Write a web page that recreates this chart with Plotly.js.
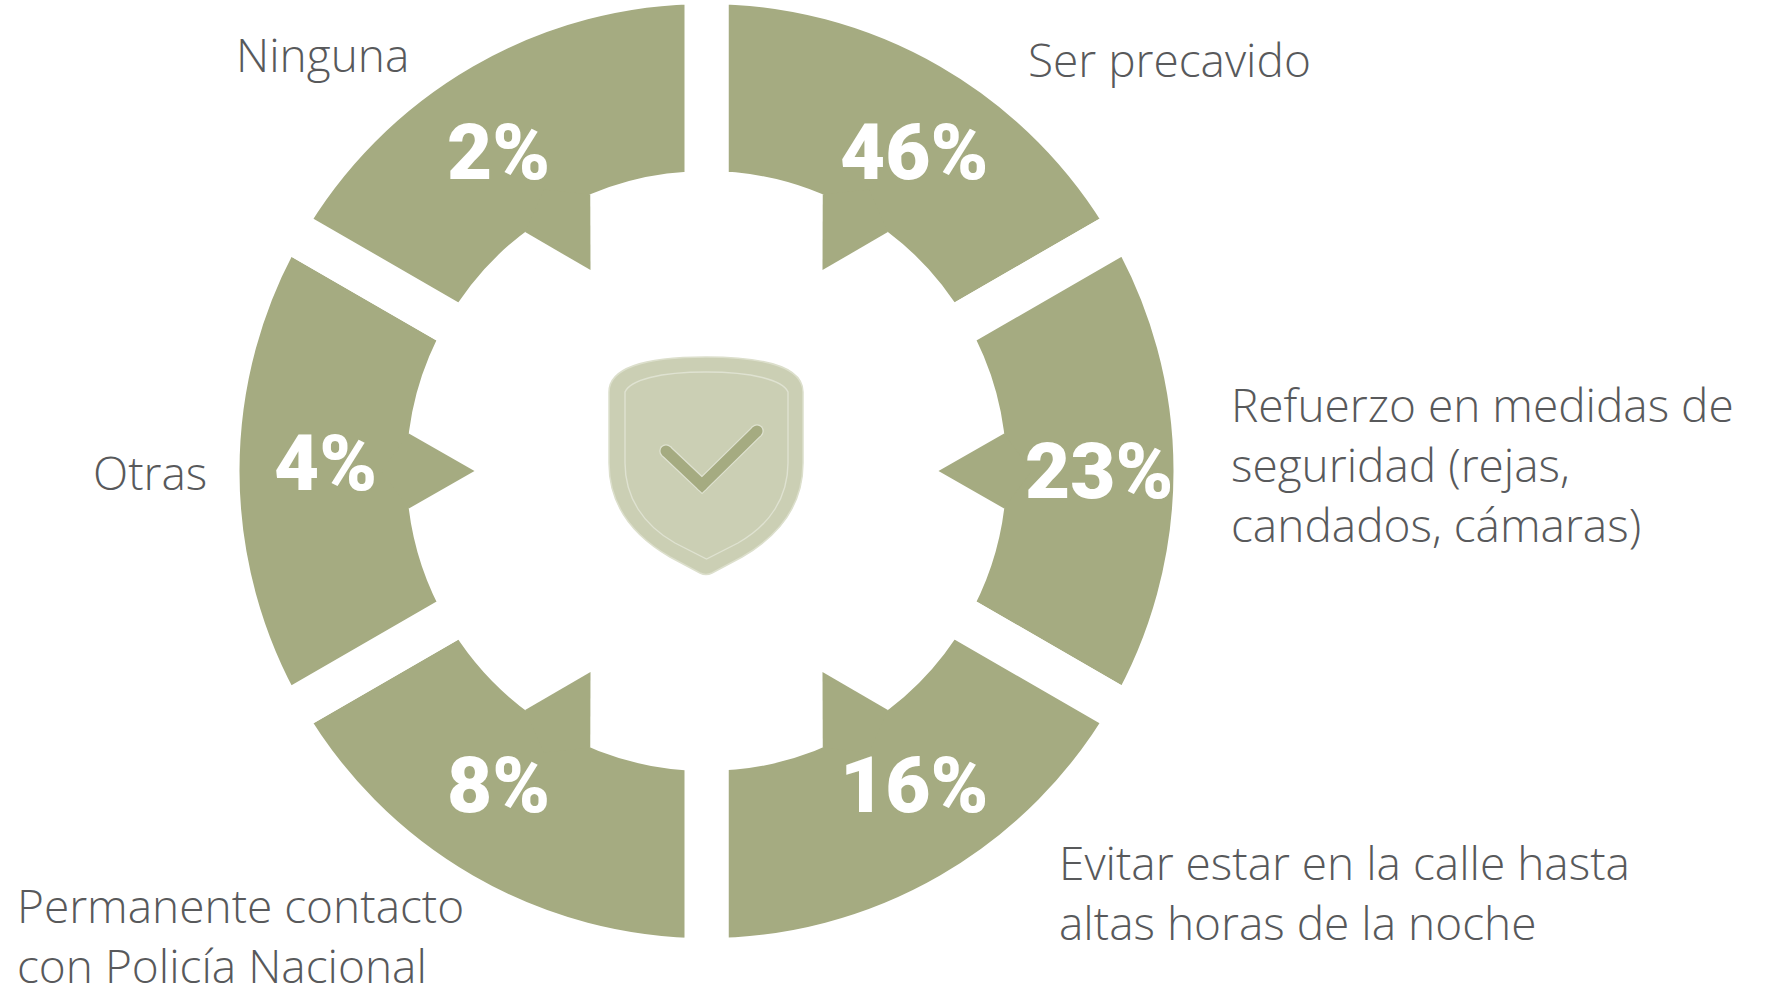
<!DOCTYPE html>
<html><head><meta charset="utf-8">
<script src="https://cdn.plot.ly/plotly-3.0.1.min.js"></script>
<style>html,body{margin:0;padding:0;background:#fff;overflow:hidden;width:1774px;height:985px}
#wrap{position:absolute;left:0;top:-30px}</style></head>
<body><div id="wrap"></div>
<script>
// ----- data -----
const categories = ["Ser precavido","Refuerzo en medidas de<br>seguridad (rejas,<br>candados, cámaras)","Evitar estar en la calle hasta<br>altas horas de la noche","Permanente contacto<br>con Policía Nacional","Otras","Ninguna"];
const percentages = [46,23,16,8,4,2];
const sliceWeights = [1,1,1,1,1,1]; // the reference draws six equal sectors
// ----- layout of the text (px in the 1774x985 picture) -----
const pctX = [914,1099,914,498,325,498];
const pctY = [153,471,785,785,464,153];
const labelX = [1026,1229,1057,15,91,234];
const labelY = [59,464,892,935,472,54];
// ----- styles / geometry -----
const GREEN="#a5ab81", TEXT="#58595b", W=1774, H=1045, TOP=30;
const CX=706.5, CY=471, ROUT=467, RIN=300, GAP=44, RTIP=232, DELTA=7.2;
const px=x=>x/W, py=y=>1-(y+TOP)/H;
const pt=(x,y)=>px(x)+","+py(y);
const polar=(r,deg)=>{const a=deg*Math.PI/180;return [CX+r*Math.sin(a),CY-r*Math.cos(a)];};

const shapes=[];
// inward arrow of every sector, centred on the sector's angle
const total=sliceWeights.reduce((a,b)=>a+b,0);
let acc=0;
sliceWeights.forEach(v=>{
  const mid=(acc+v/2)/total*360; acc+=v;
  const t=polar(RTIP,mid),a=polar(RIN,mid-DELTA),b=polar(RIN,mid+DELTA),m=polar(RIN+25,mid);
  shapes.push({type:"path",xref:"paper",yref:"paper",layer:"above",fillcolor:GREEN,line:{width:0},
    path:`M${pt(...t)} L${pt(...a)} L${pt(...m)} L${pt(...b)} Z`});
});
// shield
const P=(cmds)=>cmds.map(c=>c[0]+c.slice(1).map(p=>pt(p[0],p[1])).join(" ")).join(" ")+" Z";
shapes.push({type:"path",xref:"paper",yref:"paper",fillcolor:"#cbcfb4",line:{color:"#dcdfcc",width:1.5},
  path:P([["M",[609,392]],["C",[609,368],[645,357],[706,357]],["C",[767,357],[803,368],[803,392]],["L",[803,463]],
    ["C",[803,505],[780,535],[742,557]],["L",[712,573]],["Q",[706,576],[700,573]],["L",[670,557]],
    ["C",[632,535],[609,505],[609,463]]])});
shapes.push({type:"path",xref:"paper",yref:"paper",fillcolor:"rgba(0,0,0,0)",line:{color:"#dfe2d1",width:1.4},
  path:P([["M",[625,392]],["C",[630,380],[660,372],[706,372]],["C",[752,372],[783,380],[788,392]],["L",[788,463]],
    ["C",[788,497],[770,525],[738,543]],["L",[706.5,559]],["L",[675,543]],
    ["C",[643,525],[625,497],[625,463]]])});
// check mark
const chk=[[666,451],[702,485],[757,431]];
[[13.5,"#dfe2d1"],[11,GREEN]].forEach(([w,c])=>{
  shapes.push({type:"path",xref:"paper",yref:"paper",fillcolor:"rgba(0,0,0,0)",line:{color:c,width:w},
    path:`M${pt(...chk[0])} L${pt(...chk[1])} L${pt(...chk[2])}`});
  chk.forEach(p=>shapes.push({type:"circle",xref:"paper",yref:"paper",fillcolor:c,line:{width:0},
    x0:px(p[0]-w/2),x1:px(p[0]+w/2),y0:py(p[1]+w/2),y1:py(p[1]-w/2)}));
});

const annotations=[];
percentages.forEach((p,i)=>annotations.push({xref:"paper",yref:"paper",x:px(pctX[i]),y:py(pctY[i]),
  text:p+"%",showarrow:false,xanchor:"center",yanchor:"middle",
  font:{family:"Roboto",size:78,color:"#ffffff",weight:900}}));
categories.forEach((c,i)=>annotations.push({xref:"paper",yref:"paper",x:px(labelX[i]),y:py(labelY[i]),
  text:c,showarrow:false,xanchor:"left",yanchor:"middle",align:"left",
  font:{family:"Open Sans",size:46,color:TEXT,weight:300}}));

const R=ROUT+GAP/2, RH=RIN-GAP/2;
Plotly.newPlot("wrap",[{
  type:"pie",values:sliceWeights,labels:categories,customdata:percentages,
  sort:false,direction:"clockwise",rotation:0,hole:RH/R,textinfo:"none",
  hovertemplate:"%{label}: %{customdata}%<extra></extra>",
  marker:{colors:sliceWeights.map(()=>GREEN),line:{color:"#ffffff",width:GAP}},
  domain:{x:[(CX-R)/W,(CX+R)/W],y:[1-(CY+TOP+R)/H,1-(CY+TOP-R)/H]}
}],{width:W,height:H,margin:{l:0,r:0,t:0,b:0},showlegend:false,paper_bgcolor:"#fff",shapes,annotations},
{displayModeBar:false});
</script></body></html>
